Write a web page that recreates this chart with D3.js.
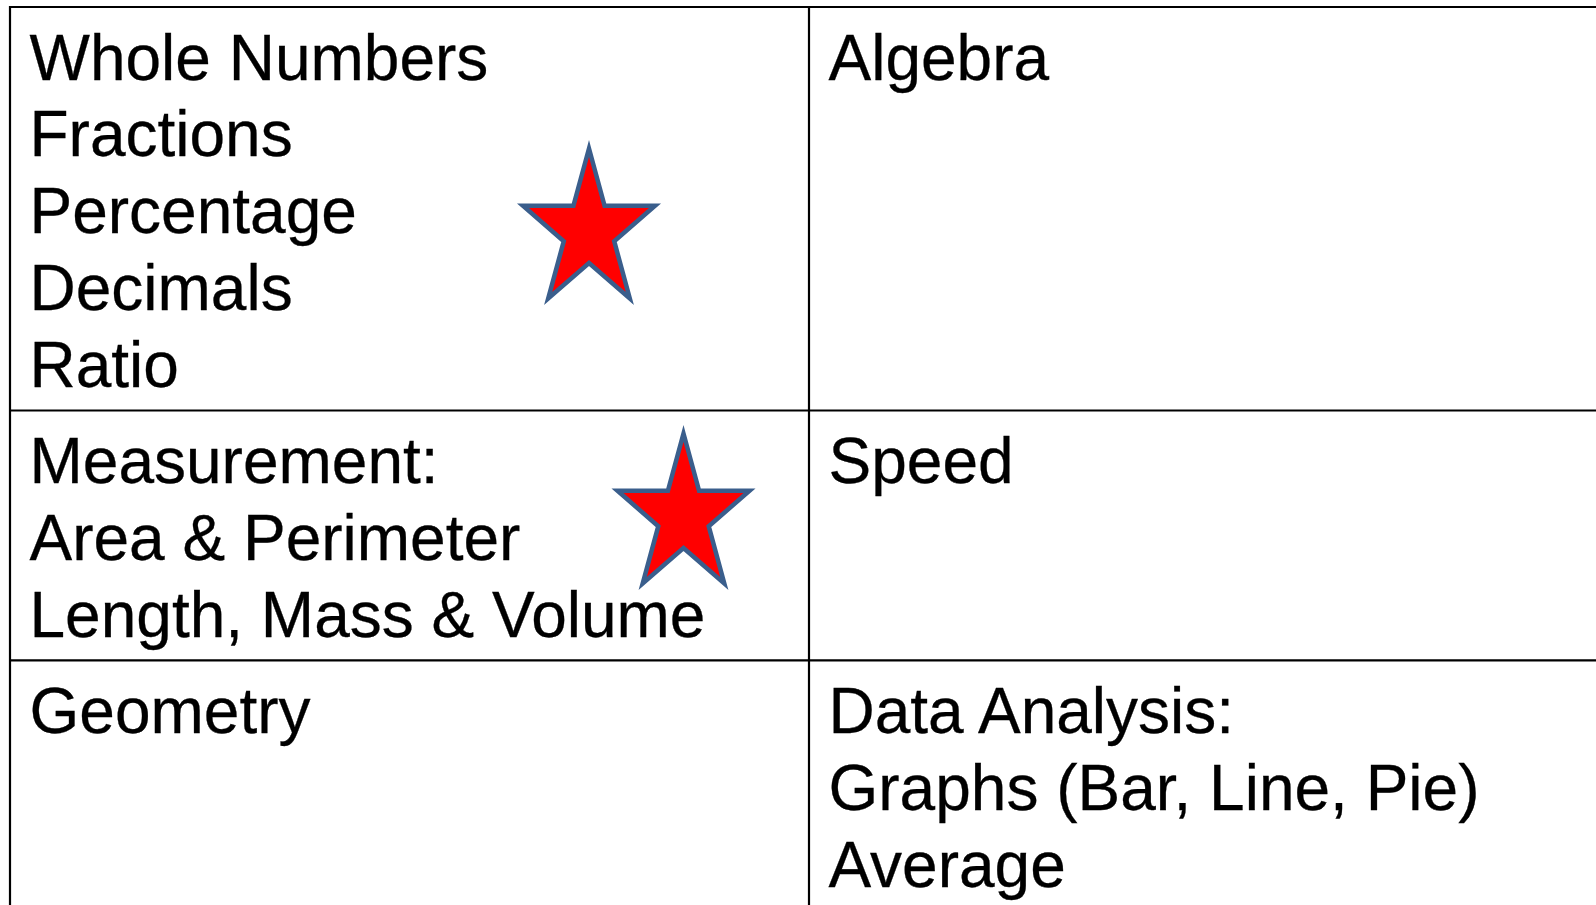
<!DOCTYPE html>
<html>
<head>
<meta charset="utf-8">
<script src="https://cdn.jsdelivr.net/npm/d3@7"></script>
<style>
  html, body { margin: 0; padding: 0; background: #fff; overflow: hidden; }
  text { font-family: "Liberation Sans", Arial, sans-serif; }
</style>
</head>
<body>
<svg id="chart" width="1596" height="905"></svg>
<script>
'use strict';

// cell contents, one array per column, one entry per row
var leftColumn = [
    ['Whole Numbers', 'Fractions', 'Percentage', 'Decimals', 'Ratio'],
    ['Measurement:', 'Area & Perimeter', 'Length, Mass & Volume'],
    ['Geometry']
];
var rightColumn = [
    ['Algebra'],
    ['Speed'],
    ['Data Analysis:', 'Graphs (Bar, Line, Pie)', 'Average']
];
// cells that carry a star: [row, column]
var starredCells = [[0, 0], [1, 0]];

var svg = d3.select('#chart');

var lineHeight = 76.8, rowPad = 19.5, firstBaseline = 72.5;
var columns = [leftColumn, rightColumn];

var rowLines = leftColumn.map(function (cell, i) {
    return Math.max(cell.length, rightColumn[i].length);
});
var rowTops = [0].concat(Array.from(d3.cumsum(rowLines, function (n) { return n * lineHeight + rowPad; })));

var x = d3.scaleLinear().domain([0, 1, 2]).range([10, 809, 1608]);
var y = d3.scaleLinear().domain([0, 1]).range([7, 8]);

// grid lines
svg.selectAll('line.h').data(rowTops).enter().append('line')
    .attr('class', 'h')
    .attr('x1', x(0) - 1).attr('x2', x(2))
    .attr('y1', function (d) { return y(d); }).attr('y2', function (d) { return y(d); })
    .attr('stroke', '#000').attr('stroke-width', 2.2);

svg.selectAll('line.v').data([0, 1, 2]).enter().append('line')
    .attr('class', 'v')
    .attr('x1', function (d) { return x(d); }).attr('x2', function (d) { return x(d); })
    .attr('y1', y(0) - 1).attr('y2', y(rowTops[rowTops.length - 1]))
    .attr('stroke', '#000').attr('stroke-width', 2.2);

// cell text
columns.forEach(function (column, c) {
    column.forEach(function (cell, r) {
        svg.selectAll('text.c' + c + 'r' + r).data(cell).enter().append('text')
            .attr('class', 'c' + c + 'r' + r)
            .attr('x', x(c) + 19.5)
            .attr('y', function (d, i) { return y(rowTops[r] + firstBaseline + i * lineHeight); })
            .attr('font-size', 64)
            .attr('fill', '#000')
            .attr('stroke', '#000').attr('stroke-width', 0.3)
            .text(function (d) { return d; });
    });
});

// stars, placed inside their cells
var starOffsets = [[579, 216.5], [673.5, 98]];
var starW = 132, starH = 150;
var starPoints = d3.range(10).map(function (i) {
    var a = -Math.PI / 2 + i * Math.PI / 5;
    var rr = i % 2 === 0 ? 1 : 0.382;
    return [rr * Math.cos(a), rr * Math.sin(a)];
});
var sx = d3.scaleLinear().domain([-0.951, 0.951]).range([-starW / 2, starW / 2]);
var sy = d3.scaleLinear().domain([-1, 0.809]).range([-starH / 2, starH / 2]);
var starLine = d3.line()
    .x(function (p) { return sx(p[0]); })
    .y(function (p) { return sy(p[1]); })
    .curve(d3.curveLinearClosed);

svg.selectAll('path.star').data(starredCells).enter().append('path')
    .attr('class', 'star')
    .attr('d', starLine(starPoints))
    .attr('transform', function (d, i) {
        return 'translate(' + (x(d[1]) + starOffsets[i][0]) + ',' + y(rowTops[d[0]] + starOffsets[i][1]) + ')';
    })
    .attr('fill', '#ff0000')
    .attr('stroke', '#3a5e8c')
    .attr('stroke-width', 4.5)
    .attr('stroke-linejoin', 'miter');
</script>
</body>
</html>
